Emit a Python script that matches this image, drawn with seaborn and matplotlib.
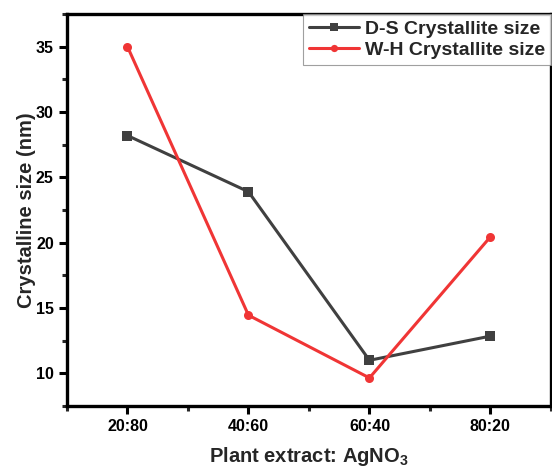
import matplotlib
matplotlib.use("Agg")
import matplotlib.pyplot as plt
import seaborn as sns
import pandas as pd
from matplotlib.ticker import MultipleLocator

# Ratio of plant extract to AgNO3
ratios = ["20:80", "40:60", "60:40", "80:20"]
# Crystallite sizes (nm)
ds_size = [28.2, 23.9, 11.0, 12.85]
wh_size = [35.0, 14.45, 9.65, 20.45]
series_names = ["D-S Crystallite size", "W-H Crystallite size"]

sns.set_theme(style="ticks")
plt.rcParams["font.family"] = ["Liberation Sans", "DejaVu Sans"]
plt.rcParams["font.weight"] = "bold"
plt.rcParams["mathtext.fontset"] = "custom"
plt.rcParams["mathtext.rm"] = "Liberation Sans:bold"
plt.rcParams["mathtext.bf"] = "Liberation Sans:bold"

df = pd.DataFrame({
    "ratio": ratios * 2,
    "size": ds_size + wh_size,
    "series": [series_names[0]] * len(ratios) + [series_names[1]] * len(ratios),
})

fig = plt.figure(figsize=(5.52, 4.69), dpi=100)
ax = fig.add_axes([0.1214, 0.1343, 0.8766, 0.8357])

sns.lineplot(
    data=df, x="ratio", y="size", hue="series", style="series",
    palette={series_names[0]: "#404040", series_names[1]: "#f03535"},
    markers={series_names[0]: "s", series_names[1]: "o"},
    dashes=False, sort=False, linewidth=2.2, markersize=6.5,
    markeredgewidth=0, ax=ax,
)

ax.set_xlim(-0.5, 3.5)
ax.set_ylim(7.5, 37.5)
ax.yaxis.set_major_locator(MultipleLocator(5))
ax.yaxis.set_minor_locator(MultipleLocator(2.5))
ax.xaxis.set_minor_locator(MultipleLocator(0.5))

for side in ax.spines.values():
    side.set_linewidth(2.4)
    side.set_color("black")

ax.tick_params(axis="both", which="major", direction="out", length=6, width=2.2,
               labelsize=11.5, colors="black")
ax.tick_params(axis="both", which="minor", direction="out", length=3.5, width=2.2)
for lbl in ax.get_xticklabels() + ax.get_yticklabels():
    lbl.set_fontweight("bold")

ax.set_xlabel(r"Plant extract: AgNO$_\mathbf{3}$", fontsize=14.5, fontweight="bold", labelpad=8)
ax.set_ylabel("Crystalline size (nm)", fontsize=14.5, fontweight="bold", labelpad=0)

leg = ax.legend(loc="upper right", fontsize=14, frameon=True, fancybox=False,
                handlelength=2.6, borderpad=0.3, labelspacing=0.2,
                handletextpad=0.3, borderaxespad=0.0, markerscale=0.8)
leg.get_frame().set_edgecolor("#888888")
leg.get_frame().set_linewidth(0.8)
for t in leg.get_texts():
    t.set_fontweight("bold")

fig.savefig("out.png", dpi=100)
